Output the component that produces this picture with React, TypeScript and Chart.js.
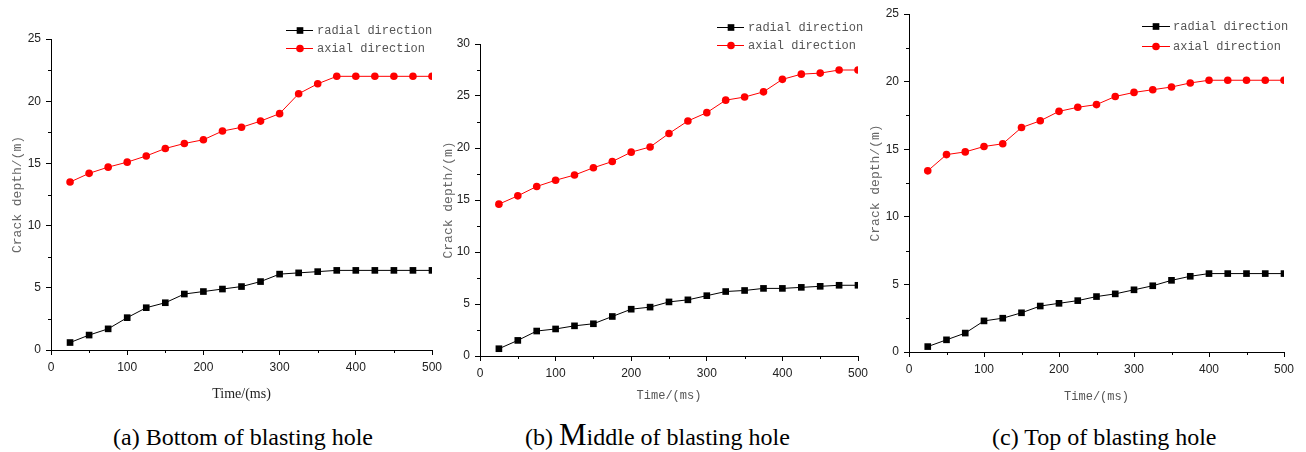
import React, { useEffect, useRef } from "react";
import { Chart, registerables } from "chart.js";
Chart.register(...registerables);

// ---------------- data ----------------
const timeMs = [25, 50, 75, 100, 125, 150, 175, 200, 225, 250, 275, 300, 325, 350, 375, 400, 425, 450, 475, 500];

const bottomRadial = [0.6, 1.2, 1.7, 2.6, 3.4, 3.8, 4.5, 4.7, 4.9, 5.1, 5.5, 6.1, 6.2, 6.3, 6.4, 6.4, 6.4, 6.4, 6.4, 6.4];
const bottomAxial = [13.5, 14.2, 14.7, 15.1, 15.6, 16.2, 16.6, 16.9, 17.6, 17.9, 18.4, 19.0, 20.6, 21.4, 22.0, 22.0, 22.0, 22.0, 22.0, 22.0];

const middleRadial = [0.7, 1.5, 2.4, 2.6, 2.9, 3.1, 3.8, 4.5, 4.7, 5.2, 5.4, 5.8, 6.2, 6.3, 6.5, 6.5, 6.6, 6.7, 6.8, 6.8];
const middleAxial = [14.6, 15.4, 16.3, 16.9, 17.4, 18.1, 18.7, 19.6, 20.1, 21.4, 22.6, 23.4, 24.6, 24.9, 25.4, 26.6, 27.1, 27.2, 27.5, 27.5];

const topRadial = [0.4, 0.9, 1.4, 2.3, 2.5, 2.9, 3.4, 3.6, 3.8, 4.1, 4.3, 4.6, 4.9, 5.3, 5.6, 5.8, 5.8, 5.8, 5.8, 5.8];
const topAxial = [13.4, 14.6, 14.8, 15.2, 15.4, 16.6, 17.1, 17.8, 18.1, 18.3, 18.9, 19.2, 19.4, 19.6, 19.9, 20.1, 20.1, 20.1, 20.1, 20.1];

const xTickValues = [0, 100, 200, 300, 400, 500];
const bottomYTicks = [0, 5, 10, 15, 20, 25];
const middleYTicks = [0, 5, 10, 15, 20, 25, 30];
const topYTicks = [0, 5, 10, 15, 20, 25];

const seriesNames = ["radial direction", "axial direction"];
const xAxisTitle = "Time/(ms)";
const yAxisTitle = "Crack depth/(m)";

// ---------------- styles / layout ----------------
const H = 410;
const MONO = "'Liberation Mono', 'DejaVu Sans Mono', monospace";
const SERIF = "'Liberation Serif', 'Times New Roman', serif";
const SANS = "'Liberation Sans', Arial, sans-serif";

type Panel = {
  left: number;
  width: number;
  area: { l: number; r: number; t: number; b: number };
  yTicks: number[];
  radial: number[];
  axial: number[];
  xTitleFont: { family: string; size: number; color: string };
  xTitleY: number;
  yTitleX: number;
  legend: { x0: number; x1: number; mx: number; tx: number; rows: number[] };
};

const panels: Panel[] = [
  {
    left: 0,
    width: 450,
    area: { l: 51, r: 432, t: 39, b: 350 },
    yTicks: bottomYTicks,
    radial: bottomRadial,
    axial: bottomAxial,
    xTitleFont: { family: SERIF, size: 14, color: "#222" },
    xTitleY: 394,
    yTitleX: 17.5,
    legend: { x0: 286, x1: 313, mx: 300, tx: 317, rows: [30, 48] },
  },
  {
    left: 436,
    width: 444,
    area: { l: 480, r: 858, t: 44, b: 356 },
    yTicks: middleYTicks,
    radial: middleRadial,
    axial: middleAxial,
    xTitleFont: { family: MONO, size: 12, color: "#555" },
    xTitleY: 396,
    yTitleX: 12.5,
    legend: { x0: 281, x1: 308, mx: 295, tx: 312, rows: [27, 45] },
  },
  {
    left: 862,
    width: 444,
    area: { l: 909, r: 1284, t: 14, b: 352 },
    yTicks: topYTicks,
    radial: topRadial,
    axial: topAxial,
    xTitleFont: { family: MONO, size: 12, color: "#555" },
    xTitleY: 397,
    yTitleX: 13.5,
    legend: { x0: 280, x1: 308, mx: 294, tx: 311, rows: [26, 46] },
  },
];

const seriesStyles = [
  { color: "#000000", pointStyle: "rect", radius: 4.7 },
  { color: "#ff0000", pointStyle: "circle", radius: 3.8 },
];

function makeChart(canvas: HTMLCanvasElement, p: Panel) {
  const minorTicks = {
    id: "minorTicks",
    afterDraw(chart: any) {
      const ctx = chart.ctx;
      const xs = chart.scales.x;
      const ys = chart.scales.y;
      ctx.save();
      ctx.strokeStyle = "#000";
      ctx.lineWidth = 1;
      ctx.beginPath();
      for (let i = 0; i < xTickValues.length - 1; i++) {
        const v = (xTickValues[i] + xTickValues[i + 1]) / 2;
        const px = Math.round(xs.getPixelForValue(v)) + 0.5;
        ctx.moveTo(px, ys.bottom);
        ctx.lineTo(px, ys.bottom + 3);
      }
      for (let i = 0; i < p.yTicks.length - 1; i++) {
        const v = (p.yTicks[i] + p.yTicks[i + 1]) / 2;
        const py = Math.round(ys.getPixelForValue(v)) + 0.5;
        ctx.moveTo(xs.left, py);
        ctx.lineTo(xs.left - 3, py);
      }
      ctx.stroke();
      ctx.restore();
    },
  };

  const legendPlugin = {
    id: "paperLegend",
    afterDraw(chart: any) {
      const ctx = chart.ctx;
      const lg = p.legend;
      ctx.save();
      seriesNames.forEach((name, i) => {
        const st = seriesStyles[i];
        const y = lg.rows[i];
        ctx.strokeStyle = st.color;
        ctx.fillStyle = st.color;
        ctx.lineWidth = 1;
        ctx.beginPath();
        ctx.moveTo(lg.x0, y + 0.5);
        ctx.lineTo(lg.x1, y + 0.5);
        ctx.stroke();
        if (st.pointStyle === "rect") {
          const s = st.radius * Math.SQRT1_2;
          ctx.fillRect(lg.mx - s, y - s + 0.5, 2 * s, 2 * s);
        } else {
          ctx.beginPath();
          ctx.arc(lg.mx, y + 0.5, st.radius, 0, Math.PI * 2);
          ctx.fill();
        }
        ctx.fillStyle = "#555";
        ctx.font = `12px ${MONO}`;
        ctx.textAlign = "left";
        ctx.textBaseline = "middle";
        ctx.fillText(name, lg.tx, y + 1);
      });
      ctx.restore();
    },
  };

  const yTitleSize = 13;
  const yTitlePad = p.yTitleX - (yTitleSize * 1.2) / 2;
  const xTitlePad = H - p.xTitleY - (p.xTitleFont.size * 1.2) / 2;

  const makeDs = (vals: number[], i: number) => ({
    label: seriesNames[i],
    data: timeMs.map((t, k) => ({ x: t, y: vals[k] })),
    borderColor: seriesStyles[i].color,
    backgroundColor: seriesStyles[i].color,
    borderWidth: 1,
    pointStyle: seriesStyles[i].pointStyle,
    pointRadius: seriesStyles[i].radius,
    pointBorderWidth: 0,
    pointBackgroundColor: seriesStyles[i].color,
    tension: 0,
  });

  return new Chart(canvas, {
    type: "line",
    data: { datasets: [makeDs(p.radial, 0), makeDs(p.axial, 1)] },
    options: {
      animation: false,
      responsive: false,
      maintainAspectRatio: false,
      layout: {
        padding: { left: 0, right: p.left + p.width - p.area.r, top: p.area.t, bottom: 0 },
      },
      plugins: { legend: { display: false }, tooltip: { enabled: false } },
      scales: {
        x: {
          type: "linear",
          min: 0,
          max: 500,
          afterBuildTicks: (s: any) => {
            s.ticks = xTickValues.map((v) => ({ value: v }));
          },
          afterFit: (s: any) => {
            s.height = H - p.area.b;
          },
          grid: { display: true, drawOnChartArea: false, drawTicks: true, tickLength: 5, color: "#000", tickColor: "#000" },
          border: { display: true, color: "#000", width: 1 },
          ticks: { font: { family: SANS, size: 12 }, color: "#222", padding: 5, maxRotation: 0, autoSkip: false },
          title: {
            display: true,
            text: xAxisTitle,
            font: { family: p.xTitleFont.family, size: p.xTitleFont.size },
            color: p.xTitleFont.color,
            padding: { top: 0, bottom: xTitlePad },
          },
        },
        y: {
          type: "linear",
          min: p.yTicks[0],
          max: p.yTicks[p.yTicks.length - 1],
          afterBuildTicks: (s: any) => {
            s.ticks = p.yTicks.map((v) => ({ value: v }));
          },
          afterFit: (s: any) => {
            s.width = p.area.l - p.left;
          },
          grid: { display: true, drawOnChartArea: false, drawTicks: true, tickLength: 5, color: "#000", tickColor: "#000" },
          border: { display: true, color: "#000", width: 1 },
          ticks: { font: { family: SANS, size: 12 }, color: "#222", padding: 5, autoSkip: false },
          title: {
            display: true,
            text: yAxisTitle,
            font: { family: MONO, size: yTitleSize },
            color: "#666",
            padding: { top: yTitlePad, bottom: 0 },
          },
        },
      },
    } as any,
    plugins: [minorTicks, legendPlugin],
  } as any);
}

const captionStyle: React.CSSProperties = {
  position: "absolute",
  top: 425,
  fontFamily: SERIF,
  fontSize: 24,
  lineHeight: "24px",
  color: "#000",
  whiteSpace: "nowrap",
};

export default function App() {
  const r0 = useRef<HTMLCanvasElement>(null);
  const r1 = useRef<HTMLCanvasElement>(null);
  const r2 = useRef<HTMLCanvasElement>(null);

  useEffect(() => {
    const refs = [r0, r1, r2];
    const charts = panels.map((p, i) => makeChart(refs[i].current as HTMLCanvasElement, p));
    return () => charts.forEach((c) => c.destroy());
  }, []);

  const refs = [r0, r1, r2];
  return (
    <div style={{ position: "absolute", left: 0, top: 0, width: 1306, height: 452, background: "#fff", overflow: "hidden" }}>
      {panels.map((p, i) => (
        <canvas
          key={i}
          ref={refs[i]}
          width={p.width}
          height={H}
          style={{ position: "absolute", left: p.left, top: 0, width: p.width, height: H }}
        />
      ))}
      <div style={{ ...captionStyle, left: 113 }}>(a) Bottom of blasting hole</div>
      <div style={{ ...captionStyle, left: 525 }}>
        (b) <span style={{ fontSize: 31, lineHeight: "1px" }}>M</span>iddle of blasting hole
      </div>
      <div style={{ ...captionStyle, left: 992 }}>(c) Top of blasting hole</div>
    </div>
  );
}
